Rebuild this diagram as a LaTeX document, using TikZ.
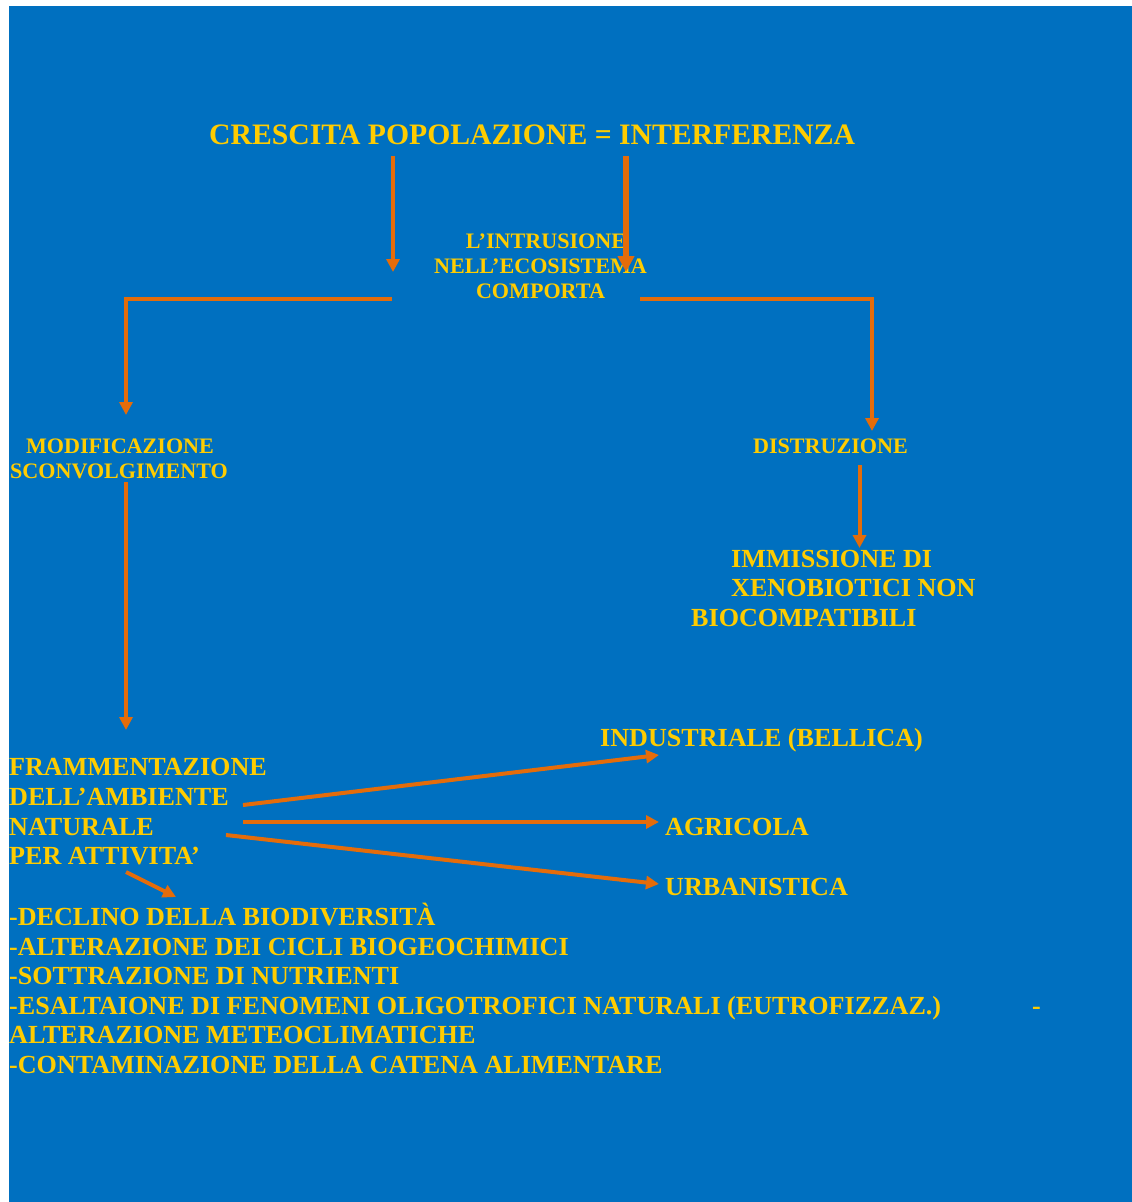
\documentclass[tikz,border=0pt]{standalone}
\usepackage{fontspec}
\setmainfont{Liberation Serif}
\usetikzlibrary{arrows.meta}
\definecolor{bgblue}{RGB}{0,112,192}
\definecolor{txtyellow}{RGB}{255,204,0}
\definecolor{arrorange}{RGB}{228,108,10}
\tikzset{
  txt/.style={inner sep=0pt, text=txtyellow, font=\bfseries},
  big/.style={txt, font=\fontsize{29.7}{35}\selectfont\bfseries},
  mid/.style={txt, font=\fontsize{26.1}{30}\selectfont\bfseries},
  sml/.style={txt, font=\fontsize{22.1}{25}\selectfont\bfseries},
  conn/.style={draw=arrorange, line width=4pt, -{Triangle[width=13pt,length=13pt]}},
  connbig/.style={draw=arrorange, line width=5.2pt, -{Triangle[width=16pt,length=16pt]}},
}
\begin{document}
\begin{tikzpicture}[x=1pt,y=-1pt]
  \useasboundingbox (0,0) rectangle (1132,1202);
  \fill[white] (0,0) rectangle (1132,1202);
  \fill[bgblue] (9,6) rectangle (1132,1202);

  % headline
  \node[big, anchor=base west] (title) at (209,144) {CRESCITA POPOLAZIONE = INTERFERENZA};

  % central statement
  \node[sml, anchor=base] (intrA) at (546,248) {L’INTRUSIONE};
  \node[sml, anchor=base] (intrB) at (540.5,273) {NELL’ECOSISTEMA};
  \node[sml, anchor=base] (intrC) at (540.5,298) {COMPORTA};

  % the two consequences
  \node[sml, anchor=base] (modA) at (120,453) {MODIFICAZIONE};
  \node[sml, anchor=base] (modB) at (119,478) {SCONVOLGIMENTO};
  \node[sml, anchor=base] (dist) at (830.5,453) {DISTRUZIONE};

  \node[mid, anchor=base west] (immA) at (731,567) {IMMISSIONE DI};
  \node[mid, anchor=base west] (immB) at (731,596) {XENOBIOTICI NON};
  \node[mid, anchor=base west] (immC) at (691,626) {BIOCOMPATIBILI};

  \node[mid, anchor=base west] (fraA) at (9,775) {FRAMMENTAZIONE};
  \node[mid, anchor=base west] (fraB) at (9,805) {DELL’AMBIENTE};
  \node[mid, anchor=base west] (fraC) at (9,835) {NATURALE};
  \node[mid, anchor=base west] (fraD) at (9,864) {PER ATTIVITA’};

  \node[mid, anchor=base west] (ind) at (600,746) {INDUSTRIALE (BELLICA)};
  \node[mid, anchor=base west] (agr) at (665,835) {AGRICOLA};
  \node[mid, anchor=base west] (urb) at (665,895) {URBANISTICA};

  % list of effects
  \node[mid, anchor=base west] (effA) at (9,925) {-DECLINO DELLA BIODIVERSITÀ};
  \node[mid, anchor=base west] (effB) at (9,955) {-ALTERAZIONE DEI CICLI BIOGEOCHIMICI};
  \node[mid, anchor=base west] (effC) at (9,984) {-SOTTRAZIONE DI NUTRIENTI};
  \node[mid, anchor=base west] (effD) at (9,1014) {-ESALTAIONE DI FENOMENI OLIGOTROFICI NATURALI (EUTROFIZZAZ.)};
  \node[mid, anchor=base west] (effDash) at (1032,1014) {-};
  \node[mid, anchor=base west] (effE) at (9,1043) {ALTERAZIONE METEOCLIMATICHE};
  \node[mid, anchor=base west] (effF) at (9,1073) {-CONTAMINAZIONE DELLA CATENA ALIMENTARE};

  % connector end points
  \coordinate (tL) at (393,156);
  \coordinate (hL) at (393,272);
  \coordinate (tR) at (626,156);
  \coordinate (hR) at (626,272);
  \coordinate (brLs) at (392,298.5);
  \coordinate (brLc) at (126,298.5);
  \coordinate (brLe) at (126,415);
  \coordinate (brRs) at (640,298.5);
  \coordinate (brRc) at (872,298.5);
  \coordinate (brRe) at (872,431);
  \coordinate (dS) at (859.5,465);
  \coordinate (dE) at (859.5,548);
  \coordinate (mS) at (126,482);
  \coordinate (mE) at (126,730);
  \coordinate (f1S) at (243,805);
  \coordinate (f1E) at (659,755);
  \coordinate (f2S) at (243,822);
  \coordinate (f2E) at (659,822);
  \coordinate (f3S) at (226,835);
  \coordinate (f3E) at (659,884);
  \coordinate (f4S) at (126,872);
  \coordinate (f4E) at (176,897);

  % connectors
  \draw[conn] (tL) -- (hL);
  \draw[connbig] (tR) -- (hR);
  \draw[conn] (brLs) -- (brLc) -- (brLe);
  \draw[conn] (brRs) -- (brRc) -- (brRe);
  \draw[conn] (dS) -- (dE);
  \draw[conn] (mS) -- (mE);
  \draw[conn] (f1S) -- (f1E);
  \draw[conn] (f2S) -- (f2E);
  \draw[conn] (f3S) -- (f3E);
  \draw[conn] (f4S) -- (f4E);
\end{tikzpicture}
\end{document}
